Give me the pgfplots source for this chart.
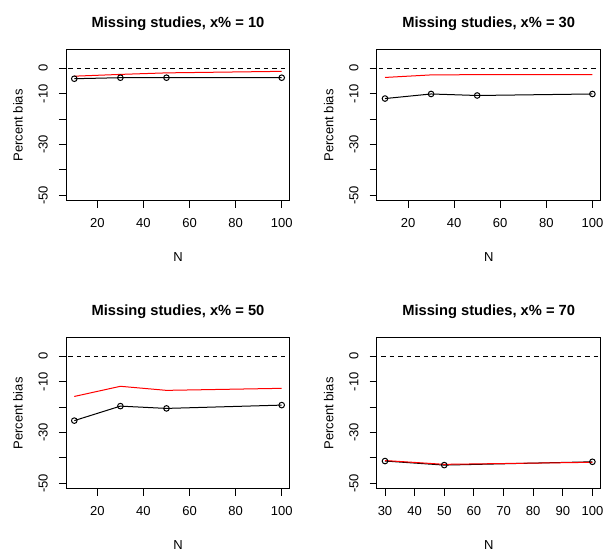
\documentclass[border=0pt]{standalone}
\usepackage{fontspec}
\setmainfont{Liberation Sans}
\usepackage{pgfplots}
\pgfplotsset{compat=1.18}
\pgfplotsset{
  rpanel/.style={
    width=224pt, height=151pt, scale only axis,
    anchor=south west,
    ymin=-52.2, ymax=7.2,
    ytick={-50,-40,-30,-20,-10,0},
    yticklabels={{-50},{},{-30},{},{-10},{0}},
    tick align=outside, major tick length=7pt,
    axis line style={line width=1pt}, every tick/.style={black, line width=1pt},
    xtick pos=bottom, ytick pos=left,
    tick label style={font=\fontsize{13}{15}\selectfont},
    /pgf/number format/assume math mode=true,
    xticklabel style={anchor=base, yshift=-19.7pt},
    yticklabel style={xshift=-11.4pt, rotate=90, anchor=base},
    title style={at={(0.5,1)}, anchor=base, yshift=16.7pt, font=\fontsize{14.7}{17}\selectfont\bfseries},
    xlabel={N}, ylabel={Percent bias},
    label style={font=\fontsize{13}{15}\selectfont},
    xlabel style={at={(0.5,0)}, anchor=base, yshift=-60.4pt},
    ylabel style={at={(-0.1938,0.5)}, rotate=0, anchor=base},
    clip=true,
  },
  blk/.style={black, line width=1pt, mark=o, mark size=2.8pt, mark options={line width=1pt}},
  rd/.style={red, line width=1pt, mark=none},
  zer/.style={black, line width=0.9pt, dash pattern=on 4.5pt off 4pt, mark=none},
}
\begin{document}
\begin{tikzpicture}
\useasboundingbox (0,0) rectangle (603pt,549pt);
% Panel 1
\begin{axis}[rpanel, at={(66pt,348pt)}, xmin=6.4, xmax=103.6, xtick={20,40,60,80,100},
  title={Missing studies, x\% = 10}]
\addplot[zer] coordinates {(0,0) (110,0)};
\addplot[blk] coordinates {(10,-4.1) (30,-3.7) (50,-3.7) (100,-3.7)};
\addplot[rd] coordinates {(10,-3.1) (30,-2.4) (50,-1.8) (100,-1.2)};
\end{axis}
% Panel 2
\begin{axis}[rpanel, at={(376.7pt,348pt)}, xmin=6.4, xmax=103.6, xtick={20,40,60,80,100},
  title={Missing studies, x\% = 30}]
\addplot[zer] coordinates {(0,0) (110,0)};
\addplot[blk] coordinates {(10,-11.9) (30,-10.1) (50,-10.7) (100,-10.1)};
\addplot[rd] coordinates {(10,-3.6) (30,-2.6) (50,-2.5) (100,-2.5)};
\end{axis}
% Panel 3
\begin{axis}[rpanel, at={(66pt,60pt)}, xmin=6.4, xmax=103.6, xtick={20,40,60,80,100},
  title={Missing studies, x\% = 50}]
\addplot[zer] coordinates {(0,0) (110,0)};
\addplot[blk] coordinates {(10,-25.3) (30,-19.6) (50,-20.5) (100,-19.2)};
\addplot[rd] coordinates {(10,-15.8) (30,-11.8) (50,-13.4) (100,-12.6)};
\end{axis}
% Panel 4
\begin{axis}[rpanel, at={(376.7pt,60pt)}, xmin=27.2, xmax=102.8, xtick={30,40,50,60,70,80,90,100},
  title={Missing studies, x\% = 70}]
\addplot[zer] coordinates {(0,0) (110,0)};
\addplot[blk] coordinates {(30,-41.2) (50,-42.8) (100,-41.5)};
\addplot[rd] coordinates {(30,-41.0) (50,-42.5) (100,-41.7)};
\end{axis}
\end{tikzpicture}
\end{document}
